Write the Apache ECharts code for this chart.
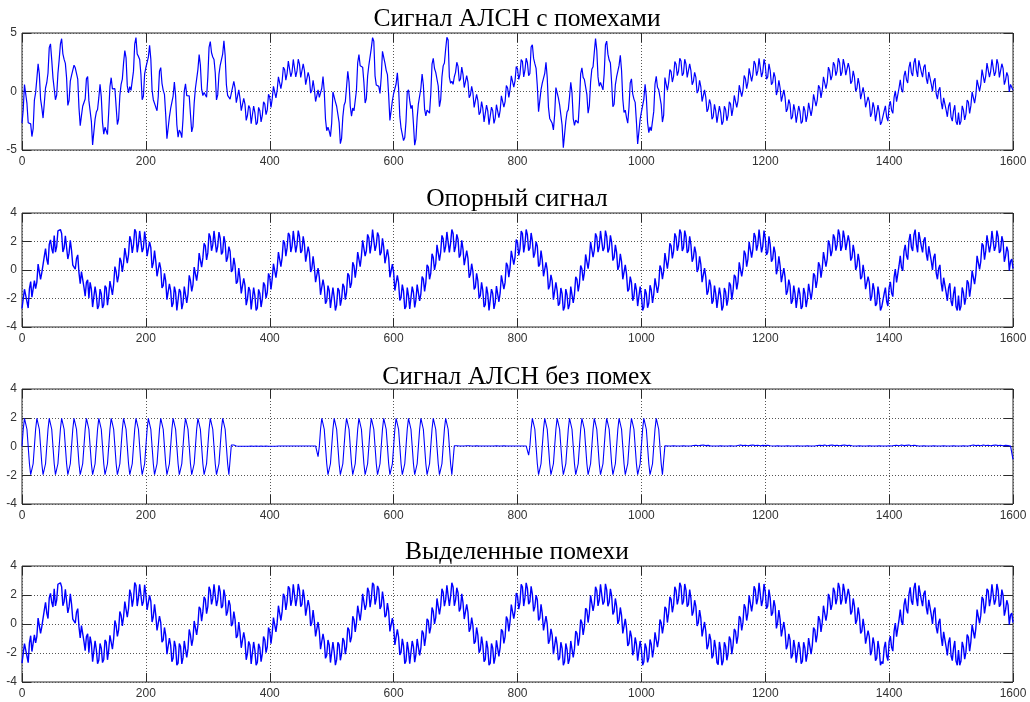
<!DOCTYPE html>
<html>
<head>
<meta charset="utf-8">
<title>Сигнал АЛСН</title>
<script src="https://cdn.jsdelivr.net/npm/echarts@6.0.0/dist/echarts.min.js"></script>
<style>
  html, body { margin: 0; padding: 0; background: #fff; }
  #chart { width: 1030px; height: 702px; }
</style>
</head>
<body>
<div id="chart"></div>
<script>
// Panel titles (top to bottom)
const panelTitles = [
  'Сигнал АЛСН с помехами',
  'Опорный сигнал',
  'Сигнал АЛСН без помех',
  'Выделенные помехи'
];

// Horizontal axis: sample number 0..1600, labelled every 200
const xTickValues = [0, 200, 400, 600, 800, 1000, 1200, 1400, 1600];

// Vertical tick values for each panel
const yTicksNoisy = [-5, 0, 5];
const yTicksOther = [-4, -2, 0, 2, 4];

// Code signal mixed with interference, samples 0,4,8,...,1600
const alsnNoisy = [
  -2.7,0.6,-1.02,-2.5,-3.85,-0.75,1.1,1.48,-1.38,-1.0,
  0.75,3.75,2.7,1.22,-0.3,2.7,4.51,2.74,1.15,-0.77,
  1.37,2.25,2.01,-1.4,-2.06,-1.2,1.08,-0.78,-2.55,-4.49,
  -1.76,-0.55,-0.46,-3.64,-3.2,-1.78,1.18,0.2,-1.31,-2.35,
  0.61,2.45,2.87,-0.12,0.1,1.74,4.61,3.0,1.46,-0.41,
  2.05,2.93,2.77,-0.7,-1.34,-0.4,2.04,0.1,-1.97,-4.03,
  -1.45,-0.39,-0.36,-3.9,-3.5,-2.32,0.65,-0.5,-1.95,-3.0,
  0.28,1.87,2.25,-0.35,-0.25,1.2,4.27,2.95,1.6,-0.29,
  2.24,3.2,3.08,-0.33,-0.65,
  0.01,0.3,-0.81,-0.6,-1.67,-1.08,-2.05,-1.44,-2.66,-1.8,
  -2.66,-1.64,-2.05,-1.08,-1.57,-0.5,-0.61,0.4,0.11,1.3,
  0.87,1.88,1.55,2.44,1.66,2.7,1.76,2.34,1.35,1.78,
  0.67,1.2,0.11,0.2,-0.81,
  -0.5,0.28,0.02,-3.35,-3.39,-2.7,0.05,-1.26,-2.64,-4.0,
  -1.18,0.38,0.8,-2.11,-1.65,0.11,3.15,2.17,0.78,-0.6,
  2.24,3.71,4.3,0.55,0.44,1.24,3.56,1.81,-0.33,-2.45,
  -0.17,0.64,0.29,-3.14,-4.2,-2.55,0.15,-1.46,-2.76,-4.04,
  -1.05,0.28,0.56,-2.08,-1.74,-0.21,2.83,1.64,0.47,-0.7,
  2.19,3.61,4.4,0.7,0.61,
  1.64,2.15,1.08,1.47,0.3,0.81,-0.3,-0.11,-1.2,-0.77,
  -1.78,-1.45,-2.44,-1.66,-2.7,-1.65,-2.29,-1.14,-1.61,-0.51,
  -0.87,0.3,0.17,1.31,0.91,1.94,1.49,2.55,1.8,2.46,
  1.54,4.0,2.38,0.47,-1.55,0.71,1.55,1.19,-2.3,-2.72,
  -1.98,0.5,-1.14,-2.86,-4.9,-1.75,-0.47,-0.1,-2.9,-2.6,
  -0.95,2.03,1.02,-0.25,-1.2,1.9,3.35,3.52,0.45,0.75,
  1.56,4.31,2.69,0.75,-1.08,1.24,2.23,1.79,-1.79,-2.23,
  -1.34,1.08,-0.65,-2.59,-4.41,-1.76,-0.65,-0.45,-3.52,-3.35,
  -1.7,1.3,0.15,-1.12,-2.03,
  1.05,0.75,1.7,1.3,2.32,1.75,2.6,
  1.56,2.34,1.35,1.78,0.87,1.2,0.11,0.4,-0.81,-0.5,-1.47,-1.08,-2.15,-1.64,-2.8,-1.8,
  -2.56,-1.54,-2.05,-1.08,-1.47,-0.5,-0.81,0.4,0.11,1.1,0.77,1.88,1.45,2.34,1.76,2.8,
  1.66,2.24,1.25,1.78,0.77,1.2,0.11,0.3,-0.81,-0.5,-1.47,-1.08,-2.15,-1.64,-2.56,-1.7,
  -2.56,-1.64,-2.05,-1.08,-1.47,-0.4,-0.71,0.3,0.11,1.2,0.77,1.78,1.35,2.24,1.76,2.5,
  1.66,2.26,1.49,1.95,0.87,1.24,0.28,0.59,-0.49,-0.28,-1.34,-0.87,-1.85,-1.39,-2.36,-1.76,-2.6,
  -1.65,-2.19,-1.24,-1.61,-0.51,-0.87,0.3,0.17,1.31,1.01,2.04,1.59,2.45,1.8,
  2.66,1.66,2.09,1.15,1.67,0.64,0.88,-0.21,0.11,-0.88,-0.54,-1.57,-1.25,-2.19,-1.66,-2.56,-1.8,
  -2.55,-1.59,-1.94,-0.91,-1.21,-0.17,-0.3,0.87,0.61,1.71,1.34,2.29,1.75,2.7,
  1.66,2.34,1.35,1.98,0.97,1.3,0.61,0.1
];

// Code signal mixed with interference, samples 2,6,10,...,1598
const alsnNoisyMid = [
  -1.54,0.51,-2.67,-2.77,-3.18,-0.1,2.37,-0.65,-2.27,0.3,
  1.58,4.07,1.17,-0.71,1.54,4.04,3.22,2.4,-1.19,0.88,
  1.54,2.02,1.06,-2.92,-1.26,-0.64,1.28,-0.87,-4.56,-2.36,
  -1.54,0.62,-2.66,-3.06,-3.67,0.42,0.22,0.24,-2.82,-0.34,
  1.06,3.5,0.48,0.41,0.0,4.06,3.2,2.74,-0.7,1.5,
  2.17,3.94,0.14,-0.6,-1.64,1.74,0.7,-0.24,-4.04,-2.17,
  -1.4,0.8,-2.84,-3.3,-3.95,0.03,-0.35,-0.38,-3.46,-0.99,
  0.45,3.15,0.2,-0.08,-0.49,3.77,3.31,2.74,-0.72,1.46,
  2.3,4.33,0.58,-0.32,
  -0.14,0.86,-0.96,0.14,-1.64,-0.58,-2.47,-1.2,-2.76,-1.24,
  -2.84,-1.36,-2.6,-0.87,-1.98,-0.24,-1.36,0.44,-0.54,1.26,0.24,2.08,0.97,2.6,1.26,2.74,
  1.24,2.76,1.2,2.37,0.58,1.64,-0.14,0.96,-0.86,0.14,
  -0.54,1.28,-2.37,-3.06,-3.86,-0.04,-0.88,-1.26,-4.46,-2.17,
  -0.88,1.72,-1.26,-1.42,-1.74,2.46,2.2,2.08,-0.99,1.3,
  2.36,4.6,1.34,0.67,-0.17,3.43,2.43,1.44,-2.47,-0.79,
  -0.24,1.59,-2.13,-2.99,-3.93,-0.04,-0.78,-1.17,-4.59,-2.23,
  -0.96,1.5,-1.51,-1.6,-1.85,2.34,1.97,1.76,-1.3,1.23,
  2.43,4.63,1.24,0.88,
  1.26,2.5,0.87,2.08,0.34,1.36,-0.54,0.44,-1.36,-0.24,-1.98,-0.87,-2.6,-1.16,-2.84,
  -1.34,-2.73,-1.13,-2.23,-0.37,-1.34,0.51,-0.51,1.34,0.37,2.13,1.03,2.73,1.24,
  2.84,1.36,
  3.8,2.83,1.98,-1.72,0.16,0.76,2.5,-1.36,-2.3,-3.28,
  0.33,-0.54,-1.26,-4.8,-2.54,-1.55,0.79,-2.31,-2.44,-2.7,
  1.51,1.21,1.09,-1.86,0.78,2.11,4.53,1.25,0.78,0.14,
  3.97,3.19,2.43,-1.3,0.56,1.21,3.1,-0.65,-1.6,-2.71,
  0.74,-0.2,-0.93,-4.49,-2.37,-1.64,0.62,-2.65,-3.03,-3.51,
  0.62,0.36,0.31,-2.61,
  1.19,0.1,1.88,0.81,2.57,1.35,2.84,
  1.34,2.76,1.2,2.37,0.58,1.64,-0.14,0.96,-0.86,0.14,-1.74,-0.68,-2.37,-1.1,-2.66,-1.24,
  -2.84,-1.26,-2.5,-0.87,-2.08,-0.34,-1.36,0.54,-0.44,1.36,0.24,1.98,0.87,2.6,1.36,2.84,
  1.24,2.76,1.05,2.37,0.58,1.64,-0.3,0.96,-0.86,0.14,-1.74,-0.68,-2.37,-1.1,-2.66,-1.24,
  -2.74,-1.26,-2.6,-0.97,-2.08,-0.24,-1.26,0.54,-0.54,1.26,0.24,2.08,0.97,2.5,1.36,2.84,
  1.34,2.77,1.4,2.43,0.66,1.76,0.01,1.14,-0.65,0.36,-1.35,-0.46,-2.16,-0.93,-2.53,-1.17,-2.84,
  -2.74,-1.23,-2.53,-0.83,-1.87,0.06,-0.89,0.99,-0.06,1.77,0.73,2.53,1.33,2.84,
  1.24,2.77,1.23,2.3,0.66,1.76,0.01,1.14,-0.65,0.36,-1.51,-0.46,-2.16,-0.93,-2.53,-1.17,-2.84,
  -2.84,-1.23,-2.43,-0.73,-1.87,-0.04,-0.99,0.99,0.04,1.87,0.73,2.43,1.23,2.74,
  1.34,2.76,1.2,2.37,0.58,1.64,-0.04,0.76
];

// Reference (interference) signal, samples 0,4,8,...,1600
const referenceSignal = [
  -2.7,-1.35,-2.22,-1.3,-1.9,-0.75,-0.85,0.28,-0.18,0.95,0.75,1.8,1.5,2.42,1.65,2.7,
  2.56,1.54,2.35,1.18,1.37,0.3,0.81,-0.2,-0.11,-1.2,-0.87,-1.98,-1.35,-2.54,-1.76,-2.5,
  -1.66,-2.44,-1.25,-1.78,-0.77,-1.0,-0.11,-0.4,0.61,0.5,1.67,1.08,2.05,1.74,2.66,1.8,
  2.66,1.54,2.05,0.98,1.57,0.5,0.61,-0.4,0.09,-1.1,-0.77,-2.08,-1.45,-2.34,-1.56,-2.7,
  -1.55,-2.32,-1.3,-1.7,-0.75,-1.05,0.28,-0.08,1.05,0.85,1.7,1.2,2.32,1.75,2.8,
  1.66,2.24,1.25,1.88,0.87,1.3,0.01,0.3,-0.81,-0.6,-1.67,-1.08,-2.05,-1.44,-2.66,-1.8,
  -2.66,-1.64,-2.05,-1.08,-1.57,-0.5,-0.61,0.4,0.11,1.3,0.87,1.88,1.55,2.44,1.66,2.7,
  1.76,2.34,1.35,1.78,0.67,1.2,0.11,0.2,-0.81,-0.5,-1.67,-1.18,-2.15,-1.44,-2.7,-1.9,
  -2.46,-1.44,-2.05,-1.18,-1.57,-0.4,-0.91,0.3,0.11,1.2,0.97,1.98,1.35,2.24,1.76,2.7,
  1.75,2.39,1.24,1.61,0.61,0.87,-0.5,-0.17,-1.31,-0.91,-1.94,-1.49,-2.55,-1.8,
  -2.66,-1.56,-2.09,-1.05,-1.67,-0.64,-0.88,0.21,-0.21,0.88,0.44,1.67,1.25,2.19,1.66,2.56,1.9,
  2.56,1.64,2.15,1.08,1.47,0.3,0.81,-0.3,-0.11,-1.2,-0.77,-1.78,-1.45,-2.44,-1.66,-2.7,
  -1.65,-2.29,-1.14,-1.61,-0.51,-0.87,0.3,0.17,1.31,0.91,1.94,1.49,2.55,1.8,
  2.46,1.54,2.05,1.18,1.67,0.4,0.71,-0.4,-0.01,-1.1,-0.77,-1.98,-1.45,-2.34,-1.66,-2.6,
  -1.75,-2.42,-1.3,-1.7,-0.65,-0.95,0.08,-0.18,0.95,0.75,1.9,1.4,2.32,1.65,2.7,
  1.56,2.36,1.49,1.95,0.87,1.24,0.28,0.59,-0.59,-0.28,-1.34,-0.87,-1.85,-1.39,-2.46,-1.76,-2.6,
  -1.65,-2.32,-1.4,-1.7,-0.65,-1.05,0.08,-0.08,1.05,0.75,1.7,1.3,2.32,1.75,2.6,
  1.56,2.34,1.35,1.78,0.87,1.2,0.11,0.4,-0.81,-0.5,-1.47,-1.08,-2.15,-1.64,-2.8,-1.8,
  -2.56,-1.54,-2.05,-1.08,-1.47,-0.5,-0.81,0.4,0.11,1.1,0.77,1.88,1.45,2.34,1.76,2.8,
  1.66,2.24,1.25,1.78,0.77,1.2,0.11,0.3,-0.81,-0.5,-1.47,-1.08,-2.15,-1.64,-2.56,-1.7,
  -2.56,-1.64,-2.05,-1.08,-1.47,-0.4,-0.71,0.3,0.11,1.2,0.77,1.78,1.35,2.24,1.76,2.5,
  1.66,2.26,1.49,1.95,0.87,1.24,0.28,0.59,-0.49,-0.28,-1.34,-0.87,-1.85,-1.39,-2.36,-1.76,-2.6,
  -1.65,-2.19,-1.24,-1.61,-0.51,-0.87,0.3,0.17,1.31,1.01,2.04,1.59,2.45,1.8,
  2.66,1.66,2.09,1.15,1.67,0.64,0.88,-0.21,0.11,-0.88,-0.54,-1.57,-1.25,-2.19,-1.66,-2.56,-1.8,
  -2.55,-1.59,-1.94,-0.91,-1.21,-0.17,-0.3,0.87,0.61,1.71,1.34,2.29,1.75,2.7,
  1.66,2.34,1.35,1.98,0.97,1.3,0.61,0.1
];

// Reference (interference) signal, samples 2,6,10,...,1598
const referenceMid = [
  -2.74,-1.45,-2.67,-0.81,-1.98,-1.3,0.41,-0.65,-0.31,1.5,0.38,2.11,1.17,1.25,2.74,
  2.84,1.26,2.4,0.77,2.08,0.34,0.06,1.06,-0.96,-0.06,-1.84,-0.68,-0.87,-2.6,-1.16,-2.74,
  -1.34,-2.66,-1.1,-2.47,-0.78,-1.74,0.24,-0.86,0.86,-0.14,1.54,0.48,2.37,1.2,2.86,1.24,
  2.74,1.26,2.7,0.97,1.98,0.14,1.36,-0.44,0.54,-1.26,-0.24,-2.08,-0.97,-2.6,-1.16,-2.84,
  -1.34,-2.75,-1.17,-2.31,-0.38,-1.5,0.21,-0.75,1.19,0.2,1.88,0.71,2.57,1.35,2.74,
  1.24,2.66,1.1,2.37,0.58,1.64,-0.14,0.86,-0.96,0.14,-1.64,-0.58,-2.47,-1.2,-2.76,-1.24,
  -2.84,-1.36,-2.6,-0.87,-1.98,-0.24,-1.36,0.44,-0.54,1.26,0.24,2.08,0.97,2.6,1.26,2.74,
  1.24,2.76,1.2,2.37,0.58,1.64,-0.14,0.96,-0.86,0.14,-1.74,-0.68,-2.37,-1.1,-2.66,-1.24,
  -2.84,-1.26,-2.5,-0.97,-2.08,-0.24,-1.26,0.54,-0.54,1.26,0.24,2.08,0.97,2.5,1.16,2.84,
  1.34,2.63,1.03,2.23,0.47,1.44,-0.51,0.41,-1.44,-0.37,-2.13,-1.03,-2.73,-1.24,
  -2.74,-1.17,-2.63,-1.03,-2.16,-0.46,-1.51,0.36,-0.65,1.14,0.01,1.76,0.66,2.43,1.23,2.67,1.24,
  2.84,1.26,2.5,0.87,2.08,0.34,1.36,-0.54,0.44,-1.36,-0.24,-1.98,-0.87,-2.6,-1.16,-2.84,
  -1.34,-2.73,-1.13,-2.23,-0.37,-1.34,0.51,-0.51,1.34,0.37,2.13,1.03,2.73,1.24,
  2.84,1.36,2.6,0.87,1.98,0.24,1.36,-0.44,0.54,-1.36,-0.34,-2.08,-0.87,-2.5,-1.26,-2.84,
  -1.34,-2.75,-1.17,-2.31,-0.48,-1.5,0.31,-0.75,1.09,0.1,1.98,0.91,2.57,1.25,2.74,
  1.34,2.77,1.23,2.43,0.66,1.76,0.01,1.14,-0.65,0.36,-1.51,-0.46,-2.16,-0.93,-2.53,-1.17,-2.84,
  -1.34,-2.65,-1.07,-2.31,-0.58,-1.6,0.31,-0.65,1.19,0.1,1.88,0.81,2.57,1.35,2.84,
  1.34,2.76,1.2,2.37,0.58,1.64,-0.14,0.96,-0.86,0.14,-1.74,-0.68,-2.37,-1.1,-2.66,-1.24,
  -2.84,-1.26,-2.5,-0.87,-2.08,-0.34,-1.36,0.54,-0.44,1.36,0.24,1.98,0.87,2.6,1.36,2.84,
  1.24,2.76,1.05,2.37,0.58,1.64,-0.3,0.96,-0.86,0.14,-1.74,-0.68,-2.37,-1.1,-2.66,-1.24,
  -2.74,-1.26,-2.6,-0.97,-2.08,-0.24,-1.26,0.54,-0.54,1.26,0.24,2.08,0.97,2.5,1.36,2.84,
  1.34,2.77,1.4,2.43,0.66,1.76,0.01,1.14,-0.65,0.36,-1.35,-0.46,-2.16,-0.93,-2.53,-1.17,-2.84,
  -2.74,-1.23,-2.53,-0.83,-1.87,0.06,-0.89,0.99,-0.06,1.77,0.73,2.53,1.33,2.84,
  1.24,2.77,1.23,2.3,0.66,1.76,0.01,1.14,-0.65,0.36,-1.51,-0.46,-2.16,-0.93,-2.53,-1.17,-2.84,
  -2.84,-1.23,-2.43,-0.73,-1.87,-0.04,-0.99,0.99,0.04,1.87,0.73,2.43,1.23,2.74,
  1.34,2.76,1.2,2.37,0.58,1.64,-0.04,0.76
];

// Clean code signal, samples 0,2,4,...,1040 (three bursts with pauses)
const alsnCodeHead = [
  0,1.2,1.96,1.96,1.2,0,-1.2,-1.96,-1.96,-1.2,
  0,1.2,1.96,1.96,1.2,0,-1.2,-1.96,-1.96,-1.2,
  0,1.2,1.96,1.96,1.2,0,-1.2,-1.96,-1.96,-1.2,
  0,1.2,1.96,1.96,1.2,0,-1.2,-1.96,-1.96,-1.2,
  0,1.2,1.96,1.96,1.2,0,-1.2,-1.96,-1.96,-1.2,
  0,1.2,1.96,1.96,1.2,0,-1.2,-1.96,-1.96,-1.2,
  0,1.2,1.96,1.96,1.2,0,-1.2,-1.96,-1.96,-1.2,
  0,1.2,1.96,1.96,1.2,0,-1.2,-1.96,-1.96,-1.2,
  0,1.2,1.96,1.96,1.2,0,-1.2,-1.96,-1.96,-1.2,
  0,1.2,1.96,1.96,1.2,0,-1.2,-1.96,-1.96,-1.2,
  0,1.2,1.96,1.96,1.2,0,-1.2,-1.96,-1.96,-1.2,
  0,1.2,1.96,1.96,1.2,0,-1.2,-1.96,-1.96,-1.2,
  0,1.2,1.96,1.96,1.2,0,-1.2,-1.96,-1.96,-1.2,
  0,1.2,1.96,1.96,1.2,0,-1.2,-1.96,-1.96,-1.2,
  0,1.2,1.96,1.96,1.2,0,-1.2,-1.96,-1.96,-1.2,
  0,1.2,1.96,1.96,1.2,0,-1.2,-1.96,-1.96,-1.2,
  0,1.2,1.96,1.96,1.2,0,-1.2,-1.96,-1.96,
  0.1,0.1,0.1,0.08,0.04,
  0.02,0.02,0.03,0.02,0.02,0.02,0.03,0.02,0.02,0.02,0.02,0.03,0.02,0.02,0.02,0.03,
  0.02,0.02,0.02,0.03,0.02,0.02,0.02,0.03,0.02,0.02,0.02,0.02,0.03,0.02,0.02,0.02,
  0.06,0.03,0.07,0.04,0.06,0.03,0.07,0.04,0.06,0.03,0.07,
  0.04,0.06,0.03,0.07,0.04,0.06,0.03,0.07,0.04,0.06,0.03,
  0.07,0.04,0.06,0.03,0.07,0.04,0.06,0.03,0.07,0.04,0.05,
  -0.7,
  0,1.2,1.96,1.96,1.2,0,-1.2,-1.96,-1.96,-1.2,
  0,1.2,1.96,1.96,1.2,0,-1.2,-1.96,-1.96,-1.2,
  0,1.2,1.96,1.96,1.2,0,-1.2,-1.96,-1.96,-1.2,
  0,1.2,1.96,1.96,1.2,0,-1.2,-1.96,-1.96,-1.2,
  0,1.2,1.96,1.96,1.2,0,-1.2,-1.96,-1.96,-1.2,
  0,1.2,1.96,1.96,1.2,0,-1.2,-1.96,-1.96,-1.2,
  0,1.2,1.96,1.96,1.2,0,-1.2,-1.96,-1.96,-1.2,
  0,1.2,1.96,1.96,1.2,0,-1.2,-1.96,-1.96,-1.2,
  0,1.2,1.96,1.96,1.2,0,-1.2,-1.96,-1.96,-1.2,
  0,1.2,1.96,1.96,1.2,0,-1.2,-1.96,-1.96,-1.2,
  0,1.2,1.96,1.96,1.2,0,-1.2,-1.96,-1.96,
  0.05,
  0.04,0.05,0.04,0.04,0.05,0.04,0.05,0.04,0.04,0.05,
  0.04,0.05,0.04,0.04,0.05,0.04,0.04,0.05,0.04,0.04,
  0.06,0.03,0.07,0.04,0.06,0.03,0.07,0.04,0.06,0.03,
  0.05,0.04,0.04,0.05,0.04,0.04,0.05,0.04,0.04,0.05,
  0.07,0.03,0.06,0.04,0.07,0.03,0.06,0.04,0.07,0.03,
  0.05,0.04,0.05,0.04,0.05,0.04,0.05,0.04,0.05,
  -0.6,
  0,1.2,1.96,1.96,1.2,0,-1.2,-1.96,-1.96,-1.2,
  0,1.2,1.96,1.96,1.2,0,-1.2,-1.96,-1.96,-1.2,
  0,1.2,1.96,1.96,1.2,0,-1.2,-1.96,-1.96,-1.2,
  0,1.2,1.96,1.96,1.2,0,-1.2,-1.96,-1.96,-1.2,
  0,1.2,1.96,1.96,1.2,0,-1.2,-1.96,-1.96,-1.2,
  0,1.2,1.96,1.96,1.2,0,-1.2,-1.96,-1.96,-1.2,
  0,1.2,1.96,1.96,1.2,0,-1.2,-1.96,-1.96,-1.2,
  0,1.2,1.96,1.96,1.2,0,-1.2,-1.96,-1.96,-1.2,
  0,1.2,1.96,1.96,1.2,0,-1.2,-1.96,-1.96,-1.2,
  0,1.2,1.96,1.96,1.2,0,-1.2,-1.96,-1.96,-1.2,
  0,1.2,1.96,1.96,1.2,0,-1.2,-1.96,-1.96,
  0.05,0.05
];

// Clean code signal after the last burst, samples 1044,1048,...,1600
const alsnCodeTail = [
  0.04,0.04,0.05,0.04,0.04,0.04,0.05,0.04,0.04,0.04,0.07,0.09,0.05,0.08,0.1,0.06,0.08,0.04,0.04,0.04,
  0.04,0.05,0.04,0.04,0.04,0.05,0.04,0.04,0.07,0.1,0.06,0.09,0.05,0.08,0.1,0.06,0.09,0.05,0.08,0.06,
  0.09,0.05,0.04,0.04,0.05,0.04,0.04,0.04,0.05,0.04,0.04,0.04,0.05,0.04,0.04,0.04,0.05,0.04,0.04,0.04,
  0.07,0.09,0.06,0.1,0.05,0.08,0.1,0.06,0.09,0.05,0.08,0.1,0.06,0.09,0.05,0.04,0.04,0.05,0.04,0.04,
  0.04,0.05,0.04,0.04,0.04,0.05,0.04,0.04,0.04,0.05,0.04,0.07,0.09,0.05,0.1,0.06,0.08,0.1,0.05,0.09,
  0.06,0.04,0.04,0.05,0.04,0.04,0.04,0.05,0.04,0.04,0.04,0.05,0.04,0.04,0.04,0.05,0.04,0.04,0.04,0.05,
  0.04,0.04,0.07,0.1,0.06,0.09,0.05,0.1,0.07,0.09,0.05,0.08,0.1,0.06,0.09,0.05,0.08,0.06,0.04,-0.9
];

// Extracted interference: the same traces as the reference signal
const extractedNoise = referenceSignal.slice();
const extractedNoiseMid = referenceMid.slice();

// Merge samples taken at 4k with samples taken at 4k+2
function interleave(even, odd) {
  const out = [];
  for (let i = 0; i < even.length; i++) {
    out.push(even[i]);
    if (i < odd.length) out.push(odd[i]);
  }
  return out;
}

// Pair stored samples with their sample numbers
function samples(values, start, step) {
  return values.map((v, i) => [start + i * step, v]);
}

const seriesData = [
  samples(interleave(alsnNoisy, alsnNoisyMid), 0, 2),
  samples(interleave(referenceSignal, referenceMid), 0, 2),
  samples(alsnCodeHead, 0, 2).concat(samples(alsnCodeTail, 1044, 4)),
  samples(interleave(extractedNoise, extractedNoiseMid), 0, 2)
];
const yTickSets = [yTicksNoisy, yTicksOther, yTicksOther, yTicksOther];
const traceWidths = [1.2, 1.4, 1.1, 1.4];

// Panel boxes in pixels
const panelBoxes = [
  { top: 33, height: 117 },
  { top: 213, height: 114 },
  { top: 389, height: 115 },
  { top: 566, height: 116 }
];
const titleTops = [6, 186, 364, 539];

const frameColor = '#2a2a2a';
const labelFont = '"Liberation Sans", Arial, sans-serif';
const dotted = { color: '#555', width: 1, type: [1, 2] };

const xMin = xTickValues[0];
const xMax = xTickValues[xTickValues.length - 1];
const xStep = xTickValues[1] - xTickValues[0];

const tickStyle = { show: true, inside: true, length: 9, lineStyle: { color: frameColor } };
const plainLabel = v => String(v);

const xAxes = [];
const yAxes = [];
panelBoxes.forEach((box, i) => {
  const yt = yTickSets[i];
  const yMin = yt[0], yMax = yt[yt.length - 1], yStep = yt[1] - yt[0];
  xAxes.push({
    type: 'value', gridIndex: i, position: 'bottom',
    min: xMin, max: xMax, interval: xStep,
    axisLine: { show: false, onZero: false },
    axisTick: tickStyle,
    axisLabel: { color: '#333', fontSize: 12, fontFamily: labelFont, margin: 6, formatter: plainLabel },
    splitLine: { show: true, lineStyle: dotted }
  });
  xAxes.push({
    type: 'value', gridIndex: i, position: 'top',
    min: xMin, max: xMax, interval: xStep,
    axisLine: { show: false, onZero: false },
    axisTick: tickStyle,
    axisLabel: { show: false },
    splitLine: { show: false }
  });
  yAxes.push({
    type: 'value', gridIndex: i, position: 'left',
    min: yMin, max: yMax, interval: yStep,
    axisLine: { show: false, onZero: false },
    axisTick: tickStyle,
    axisLabel: { color: '#333', fontSize: 12, fontFamily: labelFont, margin: 5, formatter: plainLabel },
    splitLine: { show: true, lineStyle: dotted }
  });
  yAxes.push({
    type: 'value', gridIndex: i, position: 'right',
    min: yMin, max: yMax, interval: yStep,
    axisLine: { show: false, onZero: false },
    axisTick: tickStyle,
    axisLabel: { show: false },
    splitLine: { show: false }
  });
});

const option = {
  animation: false,
  backgroundColor: '#ffffff',
  title: panelTitles.map((t, i) => ({
    text: t,
    left: 517,
    top: titleTops[i],
    textAlign: 'center',
    padding: 0,
    textStyle: {
      fontFamily: '"Liberation Serif", "DejaVu Serif", serif',
      fontSize: 25.5,
      fontWeight: 'normal',
      color: '#000'
    }
  })),
  grid: panelBoxes.map(b => ({
    left: 22, right: 17, top: b.top, height: b.height,
    show: true, borderColor: frameColor, borderWidth: 1, backgroundColor: '#fff'
  })),
  xAxis: xAxes,
  yAxis: yAxes,
  series: seriesData.map((d, i) => ({
    type: 'line',
    xAxisIndex: i * 2,
    yAxisIndex: i * 2,
    data: d,
    symbol: 'none',
    showSymbol: false,
    silent: true,
    clip: true,
    z: 3,
    lineStyle: { color: '#0000ff', width: traceWidths[i] },
    itemStyle: { color: '#0000ff' }
  }))
};

const chart = echarts.init(document.getElementById('chart'), null, { renderer: 'canvas' });
chart.setOption(option);
</script>
</body>
</html>
